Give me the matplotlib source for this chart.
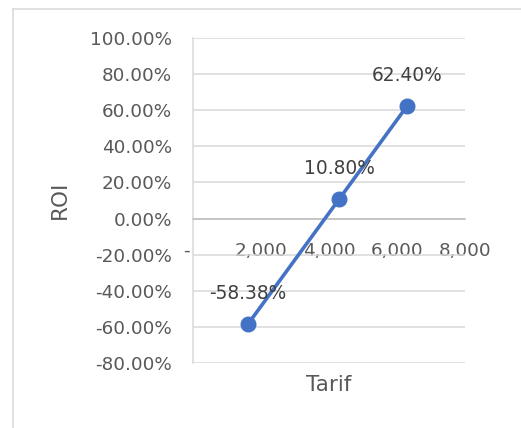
import matplotlib.pyplot as plt
from matplotlib.lines import Line2D
from matplotlib.ticker import FuncFormatter

# data
tarif = [1620, 4300, 6300]
roi = [-58.38, 10.80, 62.40]
roi_labels = ["-58.38%", "10.80%", "62.40%"]
x_ticks = [0, 2000, 4000, 6000, 8000]
y_ticks = [-80, -60, -40, -20, 0, 20, 40, 60, 80, 100]

GREY_TEXT = "#595959"
GRID = "#d9d9d9"
BLUE = "#4472C4"

plt.rcParams['font.family'] = ['DejaVu Sans']

fig = plt.figure(figsize=(5.21, 4.28), dpi=100)
ax = fig.add_axes([193 / 521, 1 - 363 / 428, 272 / 521, 325 / 428])

ax.plot(tarif, roi, color=BLUE, linewidth=2.6, marker="o", markersize=10.5, zorder=3)

for x, y, lab in zip(tarif, roi, roi_labels):
    ax.annotate(lab, (x, y), xytext=(0, 22), textcoords="offset points",
                ha="center", va="center", fontsize=13.4, color="#404040")

ax.set_xlim(0, 8000)
ax.set_ylim(-80, 100)
ax.set_xticks(x_ticks)
ax.set_yticks(y_ticks)

def fmt_x(v, pos):
    if v == 0:
        return "-  "
    return "{:,.0f}".format(v)

ax.xaxis.set_major_formatter(FuncFormatter(fmt_x))
ax.yaxis.set_major_formatter(FuncFormatter(lambda v, pos: "{:.2f}%".format(v)))

ax.grid(axis="y", color=GRID, linewidth=1.1)
ax.set_axisbelow(True)

ax.spines["bottom"].set_position(("data", 0))
ax.spines["bottom"].set_color("#bfbfbf")
ax.spines["bottom"].set_linewidth(1.1)
ax.spines["left"].set_color(GRID)
ax.spines["left"].set_linewidth(1.1)
ax.spines["top"].set_visible(False)
ax.spines["right"].set_visible(False)

ax.tick_params(axis="x", length=0, pad=17, labelsize=13.2, labelcolor=GREY_TEXT)
ax.tick_params(axis="y", length=0, pad=15, labelsize=13.2, labelcolor=GREY_TEXT)

fig.text(329 / 521, 1 - 385 / 428, "Tarif", ha="center", va="center",
         fontsize=15.5, color=GREY_TEXT)
fig.text(60 / 521, 1 - 200 / 428, "ROI", ha="center", va="center",
         rotation=90, fontsize=15.5, color=GREY_TEXT)

# chart border: only left and top edges are inside the image
bx = 13 / 521
by = 1 - 9 / 428
fig.add_artist(Line2D([bx, bx], [-0.05, by], transform=fig.transFigure,
                      color=GRID, linewidth=1.1))
fig.add_artist(Line2D([bx, 1.05], [by, by], transform=fig.transFigure,
                      color=GRID, linewidth=1.1))

fig.savefig("out.png", dpi=100)
